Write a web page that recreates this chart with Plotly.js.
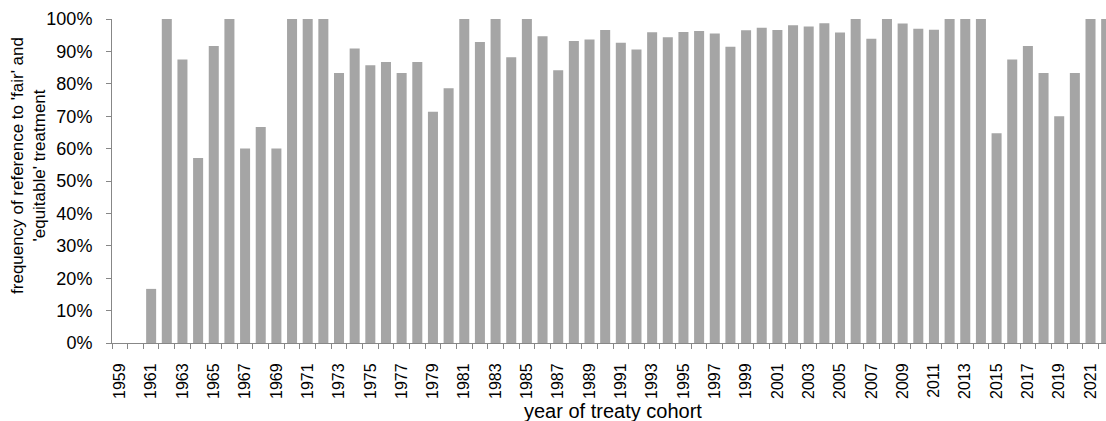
<!DOCTYPE html>
<html>
<head>
<meta charset="utf-8">
<script src="https://cdn.plot.ly/plotly-3.0.1.min.js"></script>
<style>
html, body { margin: 0; padding: 0; overflow: hidden; background: #fff; }
#chart { width: 1114px; height: 421px; }
</style>
</head>
<body>
<div id="chart"></div>
<script>
// Treaty cohort years
const years = [
  1959, 1960, 1961, 1962, 1963, 1964, 1965, 1966, 1967, 1968,
  1969, 1970, 1971, 1972, 1973, 1974, 1975, 1976, 1977, 1978,
  1979, 1980, 1981, 1982, 1983, 1984, 1985, 1986, 1987, 1988,
  1989, 1990, 1991, 1992, 1993, 1994, 1995, 1996, 1997, 1998,
  1999, 2000, 2001, 2002, 2003, 2004, 2005, 2006, 2007, 2008,
  2009, 2010, 2011, 2012, 2013, 2014, 2015, 2016, 2017, 2018,
  2019, 2020, 2021, 2022
];
// Share of treaties referring to 'fair' and 'equitable' treatment
const shares = [
  0.000, 0.000, 0.167, 1.000, 0.875, 0.571, 0.917, 1.000, 0.600, 0.667,
  0.600, 1.000, 1.000, 1.000, 0.833, 0.909, 0.857, 0.867, 0.833, 0.867,
  0.714, 0.786, 1.000, 0.929, 1.000, 0.882, 1.000, 0.947, 0.842, 0.932,
  0.937, 0.966, 0.927, 0.906, 0.959, 0.944, 0.960, 0.963, 0.955, 0.914,
  0.965, 0.973, 0.966, 0.981, 0.977, 0.987, 0.958, 1.000, 0.939, 1.000,
  0.986, 0.970, 0.967, 1.000, 1.000, 1.000, 0.647, 0.875, 0.917, 0.833,
  0.700, 0.833, 1.000, 1.000
];
// Labelled ticks: every other year
const labelYears = years.filter((y, i) => i % 2 === 0);
const labelText = labelYears.map(String);

const yTitle = "frequency of reference to 'fair' and<br>'equitable' treatment";
const xTitle = "year of treaty cohort";

const FONT = "Liberation Sans, Arial, sans-serif";
const AXIS_GREY = "#878787";

const trace = {
  type: 'bar',
  x: years,
  y: shares,
  marker: { color: '#a5a5a5', line: { width: 0 } },
  hoverinfo: 'x+y'
};

const layout = {
  width: 1114,
  height: 421,
  margin: { l: 112, r: 0, t: 19, b: 78, pad: 0 },
  paper_bgcolor: '#ffffff',
  plot_bgcolor: '#ffffff',
  bargap: 0.36,
  showlegend: false,
  font: { family: FONT, color: '#000000' },
  xaxis: {
    type: 'linear',
    range: [years[0] - 0.5, years[years.length - 1] + 0.5],
    tickmode: 'array',
    tickvals: labelYears,
    ticktext: labelText,
    tickangle: -90,
    ticks: '',
    tickfont: { family: FONT, size: 16, color: '#000000' },
    ticklabelstandoff: 13,
    showline: true,
    linecolor: AXIS_GREY,
    linewidth: 1,
    showgrid: false,
    zeroline: false,
    minor: {
      tick0: years[0] - 0.5,
      dtick: 1,
      ticks: 'outside',
      ticklen: 5,
      tickcolor: AXIS_GREY,
      tickwidth: 1,
      showgrid: false
    },
    title: { text: '' }
  },
  yaxis: {
    range: [0, 1],
    dtick: 0.1,
    tick0: 0,
    tickformat: '.0%',
    ticks: 'outside',
    ticklen: 5,
    tickcolor: AXIS_GREY,
    tickwidth: 1,
    tickfont: { family: FONT, size: 18, color: '#000000' },
    ticklabelstandoff: 10,
    showline: true,
    linecolor: AXIS_GREY,
    linewidth: 1,
    showgrid: false,
    zeroline: false,
    title: { text: '' }
  },
  annotations: [{
    text: xTitle,
    xref: 'x',
    yref: 'paper',
    x: (years[0] + years[years.length - 1]) / 2,
    y: -0.21,
    xanchor: 'center',
    yanchor: 'middle',
    showarrow: false,
    font: { family: FONT, size: 20, color: '#000000' }
  }, {
    text: yTitle,
    xref: 'paper',
    yref: 'paper',
    x: -0.084,
    y: 0.549,
    xanchor: 'center',
    yanchor: 'middle',
    textangle: -90,
    showarrow: false,
    font: { family: FONT, size: 17, color: '#000000' }
  }]
};

Plotly.newPlot('chart', [trace], layout, { staticPlot: true, displayModeBar: false });
</script>
</body>
</html>
